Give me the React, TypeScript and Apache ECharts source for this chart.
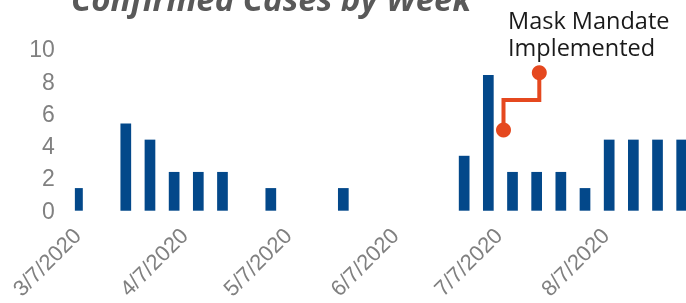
import React, { useEffect, useRef } from "react";
import * as echarts from "echarts";

// ---- data ----
const weekDates = [
  "2020-03-10", "2020-03-17", "2020-03-24", "2020-03-31", "2020-04-07", "2020-04-14",
  "2020-04-21", "2020-04-28", "2020-05-05", "2020-05-12", "2020-05-19", "2020-05-26",
  "2020-06-02", "2020-06-09", "2020-06-16", "2020-06-23", "2020-06-30", "2020-07-07",
  "2020-07-14", "2020-07-21", "2020-07-28", "2020-08-04", "2020-08-11", "2020-08-18",
  "2020-08-25", "2020-09-01",
];
const weeklyCases = [
  1.4, 0, 5.4, 4.4, 2.4, 2.4,
  2.4, 0, 1.4, 0, 0, 1.4,
  0, 0, 0, 0, 3.4, 8.4,
  2.4, 2.4, 2.4, 1.4, 4.4, 4.4,
  4.4, 4.4,
];
const tickLabels = ["3/7/2020", "4/7/2020", "5/7/2020", "6/7/2020", "7/7/2020", "8/7/2020"];
const yTicks = { min: 0, max: 10, interval: 2 };
const titleText = "Confirmed Cases by Week";
const annotationText = "Mask Mandate\nImplemented";

const DAY = 86400000;
const parseMDY = (s: string) => {
  const [m, d, y] = s.split("/").map(Number);
  return Date.UTC(y, m - 1, d);
};
const parseISO = (s: string) => {
  const [y, m, d] = s.split("-").map(Number);
  return Date.UTC(y, m - 1, d);
};
const fmtMDY = (t: number) => {
  const d = new Date(t);
  return `${d.getUTCMonth() + 1}/${d.getUTCDate()}/${d.getUTCFullYear()}`;
};

export default function App() {
  const ref = useRef<HTMLDivElement>(null);
  useEffect(() => {
    if (!ref.current) return;
    const chart = echarts.init(ref.current, undefined, { renderer: "svg" });

    const W = 686;
    const pxPerDay = 3.453;
    const day0Px = 67.1; // pixel of the first tick date
    const labelShift = 10;
    const day0 = parseMDY(tickLabels[0]);

    // half-day category scaffold for the bars (band edges line up with the plot edge)
    const half = DAY / 2;
    const bw = pxPerDay / 2;
    const firstSlot = 5;
    const nSlots = 354;
    const gridLeft = day0Px + (firstSlot - 0.5) * bw;
    const gridRight = Math.max(0, W - gridLeft - nSlots * bw);
    const slots: string[] = [];
    const barData: (number | null)[] = [];
    for (let k = 0; k < nSlots; k++) {
      slots.push(String(k));
      barData.push(null);
    }
    weekDates.forEach((d, i) => {
      const k = Math.round((parseISO(d) - day0) / half) - firstSlot;
      if (k >= 0 && k < nSlots) barData[k] = weeklyCases[i];
    });

    // daily category scaffold for the date labels
    const nDays = 170;
    const days: string[] = [];
    for (let i = 0; i < nDays; i++) days.push(fmtMDY(day0 + i * DAY));
    const grid2Left = day0Px + labelShift;
    const grid2Right = W - grid2Left - (nDays - 1) * pxPerDay;

    const red = "#E5481F";
    const gridTop = 49.2;
    const gridBottom = 303 - 210.7;
    const labelFont = "Liberation Sans";
    const labelColor = "#808080";

    chart.setOption({
      animation: false,
      title: {
        text: titleText,
        left: 66,
        top: -23,
        textStyle: {
          fontFamily: "Open Sans",
          fontSize: 33,
          fontStyle: "italic",
          fontWeight: "bold",
          color: "#595959",
        },
      },
      grid: [
        { left: gridLeft, right: gridRight, top: gridTop, bottom: gridBottom, outerBoundsMode: "none" },
        { left: grid2Left, right: grid2Right, top: gridTop, bottom: gridBottom, outerBoundsMode: "none" },
      ],
      xAxis: [
        {
          type: "category",
          gridIndex: 0,
          data: slots,
          boundaryGap: true,
          axisLine: { show: false },
          axisTick: { show: false },
          axisLabel: { show: false },
          splitLine: { show: false },
        },
        {
          type: "category",
          gridIndex: 1,
          data: days,
          boundaryGap: false,
          axisLine: { show: false },
          axisTick: { show: false },
          splitLine: { show: false },
          axisLabel: {
            interval: (_i: number, v: string) => tickLabels.includes(v),
            rotate: 45,
            margin: 21,
            fontFamily: labelFont,
            fontSize: 22,
            color: labelColor,
            hideOverlap: false,
          },
        },
      ],
      yAxis: [
        {
          type: "value",
          gridIndex: 0,
          min: yTicks.min,
          max: yTicks.max,
          interval: yTicks.interval,
          axisLine: { show: false },
          axisTick: { show: false },
          splitLine: { show: false },
          axisLabel: {
            margin: 20,
            fontFamily: labelFont,
            fontSize: 23,
            color: labelColor,
            padding: [0, 0, 5, 0],
          },
        },
        {
          type: "value",
          gridIndex: 1,
          min: yTicks.min,
          max: yTicks.max,
          show: false,
        },
      ],
      series: [
        {
          type: "bar",
          xAxisIndex: 0,
          yAxisIndex: 0,
          barWidth: 10.7,
          clip: true,
          itemStyle: { color: "#03488A" },
          data: barData,
        },
      ],
      graphic: [
        {
          type: "polyline",
          shape: { points: [[539.3, 72.7], [539.3, 100], [503.5, 100], [503.5, 130]] },
          style: { stroke: red, lineWidth: 4, fill: null },
          z: 10,
        },
        { type: "circle", shape: { cx: 539.3, cy: 72.7, r: 7.5 }, style: { fill: red }, z: 11 },
        { type: "circle", shape: { cx: 503.5, cy: 130, r: 7.5 }, style: { fill: red }, z: 11 },
        {
          type: "text",
          x: 508,
          y: 6,
          style: {
            text: annotationText,
            fontFamily: "Open Sans",
            fontSize: 23.5,
            lineHeight: 27,
            fill: "#1a1a1a",
            verticalAlign: "top",
            align: "left",
          },
          z: 11,
        },
      ],
    });
    return () => chart.dispose();
  }, []);
  return (
    <div
      ref={ref}
      style={{ position: "fixed", left: 0, top: 0, width: 686, height: 303 }}
    />
  );
}
